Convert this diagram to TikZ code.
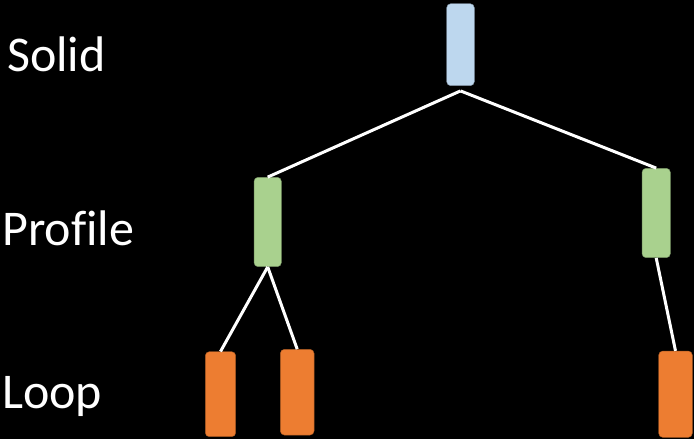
\documentclass[tikz,border=0pt]{standalone}
\usepackage{fontspec}
\setmainfont{Carlito}[Ligatures=NoCommon]
\definecolor{solidblue}{RGB}{189,215,238}
\definecolor{profgreen}{RGB}{169,209,142}
\definecolor{looporange}{RGB}{237,125,49}
\usetikzlibrary{positioning}

\begin{document}
\begin{tikzpicture}[x=1pt,y=-1pt,
    levelbox/.style={draw=#1!70!black,fill=#1,line width=0.4pt,rounded corners=4pt,inner sep=0pt},
    leveltext/.style={anchor=base west,inner sep=0pt,text=white,font=\fontsize{50}{60}\selectfont},
    tree/.style={white,line width=3pt}]
  % background and page size
  \fill[black] (0,0) rectangle (694,439);
  \useasboundingbox (0,0) rectangle (694,439);

  % Level labels
  \node[leveltext] (tsolid) at (7,71) {Solid};
  \node[leveltext] (tprofile) at (2,245) {Profile};
  \node[leveltext] (tloop) at (2,408) {Loop};

  % Solid (top)
  \node[levelbox=solidblue,minimum width=27.6pt,minimum height=82pt] (solid) at (460.5,44.7) {};
  \coordinate[below=5pt of solid] (fork);

  % Profiles
  \node[levelbox=profgreen,minimum width=27.3pt,minimum height=89.4pt] (profl) at (267.7,222) {};
  \node[levelbox=profgreen,minimum width=28.3pt,minimum height=89.4pt] (profr) at (656.2,213) {};

  % Loops (bottom)
  \node[levelbox=looporange,minimum width=30.4pt,minimum height=85pt] (loopa) at (220.5,394.2) {};
  \node[levelbox=looporange,minimum width=33.7pt,minimum height=85.7pt] (loopb) at (297.2,392.2) {};
  \node[levelbox=looporange,minimum width=33.6pt,minimum height=86.3pt] (loopc) at (675.5,394.2) {};

  % Tree edges
  \draw[tree] (fork) -- (profl.north);
  \draw[tree] (fork) -- (profr.north);
  \draw[tree] (profl.south) -- (loopa.north);
  \draw[tree] (profl.south) -- (loopb.north);
  \draw[tree] (profr.south) -- (loopc.north);
\end{tikzpicture}
\end{document}
